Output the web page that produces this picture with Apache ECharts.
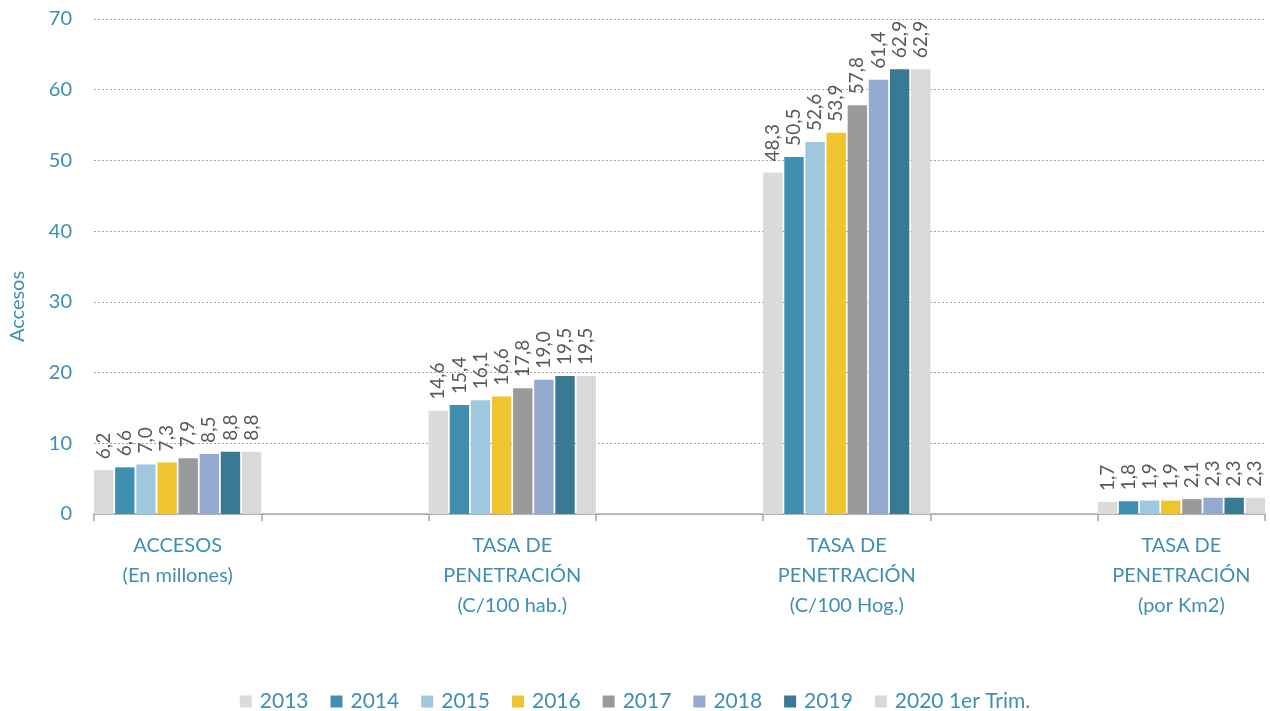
<!DOCTYPE html>
<html>
<head>
<meta charset="utf-8">
<script src="https://cdn.jsdelivr.net/npm/echarts@6/dist/echarts.min.js"></script>
<style>
html,body{margin:0;padding:0;background:#fff;}
#chart{width:1270px;height:711px;}
</style>
</head>
<body>
<div id="chart"></div>
<script>
// categories (blank slots keep the gaps between groups)
var categorias = ['ACCESOS\n(En millones)', '', 'TASA DE\nPENETRACIÓN\n(C/100 hab.)', '', 'TASA DE\nPENETRACIÓN\n(C/100 Hog.)', '', 'TASA DE\nPENETRACIÓN\n(por Km2)'];
var anios = ['2013', '2014', '2015', '2016', '2017', '2018', '2019', '2020 1er Trim.'];
var colores = ['#DCDBDA', '#418FB0', '#9FC8DF', '#EEC52F', '#989A9C', '#94A9D0', '#387993', '#D9D9D9'];

// values per group, one entry per year
var accesos    = [6.2, 6.6, 7.0, 7.3, 7.9, 8.5, 8.8, 8.8];
var tasaHab    = [14.6, 15.4, 16.1, 16.6, 17.8, 19.0, 19.5, 19.5];
var tasaHog    = [48.3, 50.5, 52.6, 53.9, 57.8, 61.4, 62.9, 62.9];
var tasaKm2    = [1.7, 1.8, 1.9, 1.9, 2.1, 2.3, 2.3, 2.3];

var yTicks = [0, 70, 10];

var series = [];
for (var i = 0; i < anios.length; i++) {
    series.push({
        name: anios[i],
        type: 'bar',
        barGap: '9%',
        barCategoryGap: 0,
        itemStyle: {color: colores[i]},
        label: {
            show: true,
            position: 'top',
            rotate: 90,
            align: 'left',
            verticalAlign: 'middle',
            distance: 11,
            color: '#595959',
            fontSize: 19,
            fontFamily: 'Lato',
            formatter: function (p) {
                return p.value.toFixed(1).replace('.', ',');
            }
        },
        data: [accesos[i], null, tasaHab[i], null, tasaHog[i], null, tasaKm2[i]]
    });
}

var option = {
    animation: false,
    textStyle: {fontFamily: 'Lato'},
    grid: {left: 94, right: 5, top: 19, bottom: 197, containLabel: false},
    legend: {
        bottom: -6,
        left: 'center',
        itemWidth: 12,
        itemHeight: 12,
        itemGap: 22,
        icon: 'rect',
        textStyle: {color: '#3E8FB0', fontSize: 21, fontFamily: 'Lato', padding: [0, 0, 0, 3]},
        data: anios
    },
    xAxis: {
        type: 'category',
        data: categorias,
        axisLine: {lineStyle: {color: '#A6A6A6', width: 1.5}},
        axisTick: {show: true, interval: 0, length: 7, lineStyle: {color: '#A6A6A6', width: 1.5}},
        axisLabel: {interval: 0, color: '#3E8FB0', fontSize: 20, lineHeight: 30, margin: 17, fontFamily: 'Lato'}
    },
    yAxis: {
        type: 'value',
        min: yTicks[0],
        max: yTicks[1],
        interval: yTicks[2],
        name: 'Accesos',
        nameLocation: 'middle',
        nameGap: 66,
        nameTextStyle: {color: '#3E8FB0', fontSize: 20, fontFamily: 'Lato', padding: [0, 80, 0, 0]},
        axisLabel: {color: '#3E8FB0', fontSize: 20, margin: 22, fontFamily: 'Lato'},
        axisLine: {show: false},
        axisTick: {show: false},
        splitLine: {lineStyle: {color: '#A6A6A6', type: [2, 2], width: 1}}
    },
    series: series
};

var myChart = echarts.init(document.getElementById('chart'));
myChart.setOption(option);
</script>
</body>
</html>
